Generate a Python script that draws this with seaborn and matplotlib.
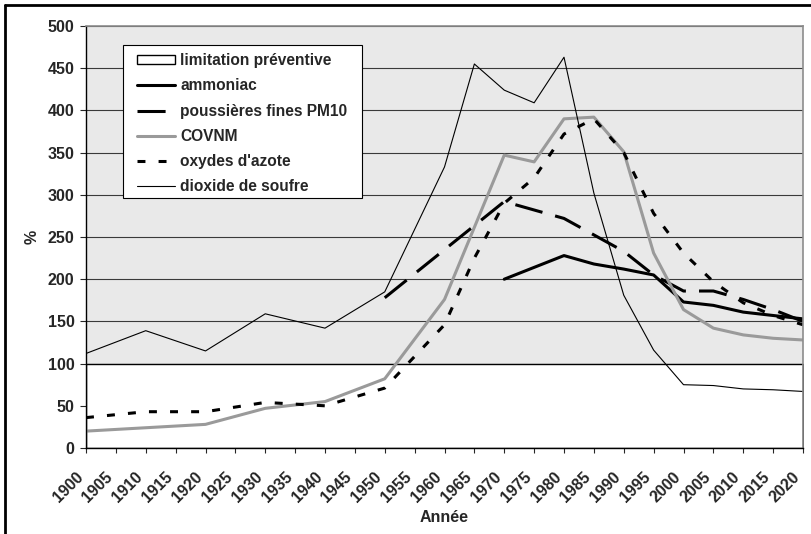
import numpy as np
import pandas as pd
import matplotlib
matplotlib.use("Agg")
import matplotlib.pyplot as plt
import seaborn as sns
from matplotlib.lines import Line2D
from matplotlib.patches import Rectangle

# valeurs (% de la limitation préventive)
years_lim = [1900, 2020]
lim = [100, 100]

years_nh3 = [1970, 1980, 1985, 1990, 1995, 2000, 2005, 2010, 2015, 2020]
nh3 = [200, 228, 218, 212, 205, 173, 169, 161, 157, 153]

years_pm10 = [1950, 1960, 1970, 1980, 1990, 1995, 2000, 2005, 2010, 2015, 2020]
pm10 = [178, 235, 292, 272, 233, 205, 186, 186, 176, 164, 150]

years_covnm = [1900, 1920, 1930, 1940, 1950, 1960, 1970, 1975, 1980, 1985, 1990,
               1995, 2000, 2005, 2010, 2015, 2020]
covnm = [20, 28, 47, 55, 82, 176, 347, 339, 390, 392, 351, 231, 164, 142, 134, 130, 128]

years_nox = [1900, 1910, 1920, 1930, 1940, 1950, 1960, 1965, 1970, 1975, 1980, 1985,
             1990, 1995, 2000, 2005, 2010, 2015, 2020]
nox = [36, 43, 43, 54, 50, 71, 146, 225, 290, 320, 372, 390, 350, 278, 231, 197, 172,
       157, 146]

years_so2 = [1900, 1910, 1920, 1930, 1940, 1950, 1960, 1965, 1970, 1975, 1980, 1985,
             1990, 1995, 2000, 2005, 2010, 2015, 2020]
so2 = [112, 139, 115, 159, 142, 185, 333, 455, 424, 409, 463, 302, 181, 116, 75, 74,
       70, 69, 67]

xticks = list(range(1900, 2021, 5))
yticks = list(range(0, 501, 50))

labels = ["limitation préventive", "ammoniac", "poussières fines PM10", "COVNM",
          "oxydes d'azote", "dioxide de soufre"]

sns.set_style("white")
plt.rcParams['font.family'] = ['Liberation Sans', 'DejaVu Sans']
plt.rcParams['font.weight'] = 'bold'
plt.rcParams['font.size'] = 11.5

fig = plt.figure(figsize=(8.11, 5.34), dpi=100)
ax = fig.add_axes([86/811, 1-448/534, (803-86)/811, (448-26)/534])
ax.set_facecolor('#e9e9e9')

ax.fill_between(years_lim, 0, lim, facecolor='white', edgecolor='black', lw=1,
                label=labels[0], zorder=1)

sns.lineplot(x=years_nh3, y=nh3, ax=ax, color='black', lw=2.2, label=labels[1],
             legend=False)
sns.lineplot(x=years_pm10, y=pm10, ax=ax, color='black', lw=2.2,
             linestyle=(0, (9.2, 4.3)), label=labels[2], legend=False)
sns.lineplot(x=years_covnm, y=covnm, ax=ax, color='#9a9a9a', lw=2.2, label=labels[3],
             legend=False)
sns.lineplot(x=years_nox, y=nox, ax=ax, color='black', lw=2.2,
             linestyle=(0, (2.6, 4.3)), label=labels[4], legend=False)
sns.lineplot(x=years_so2, y=so2, ax=ax, color='black', lw=0.8, label=labels[5],
             legend=False)

ax.set_xlim(1900, 2020)
ax.set_ylim(0, 500)
ax.set_xticks(xticks, labels=[str(y) for y in xticks])
ax.set_yticks(yticks)
ax.set_axisbelow(True)
ax.yaxis.grid(True, color='#3a3a3a', lw=0.8)

for side in ['top', 'right']:
    ax.spines[side].set_color('#8c8c8c')
    ax.spines[side].set_linewidth(1.2)
for side in ['left', 'bottom']:
    ax.spines[side].set_color('black')
    ax.spines[side].set_linewidth(1)

ax.tick_params(axis='y', direction='out', length=4.3, width=0.8, pad=4, left=True,
               labelsize=11.5)
ax.tick_params(axis='x', direction='out', length=3.4, width=0.8, pad=19.6, bottom=True,
               labelsize=11.5)
plt.setp(ax.get_xticklabels(), rotation=45, ha='right', va='bottom',
         rotation_mode='anchor')

ax.set_xlabel('Année', fontsize=11.5, fontweight='bold')
ax.set_ylabel('%', fontsize=11.5, fontweight='bold')
ax.xaxis.set_label_coords(0.5, (448-510)/422)
ax.yaxis.set_label_coords((40-86)/717, 0.5)

# cadre de la légende (taille fixe comme dans Excel)
ax.add_patch(Rectangle((123/811, 1-198/534), (362-123)/811, (198-45)/534,
                       transform=fig.transFigure, facecolor='white',
                       edgecolor='black', lw=0.8, zorder=4.5, clip_on=False))

handles, labs = ax.get_legend_handles_labels()
order = [labs.index(l) for l in labels]
leg = ax.legend([handles[i] for i in order], [labs[i] for i in order],
                loc='upper left', bbox_to_anchor=(137/811, 1-53/534),
                bbox_transform=fig.transFigure, borderaxespad=0, borderpad=0,
                frameon=False, prop={'weight': 'bold', 'size': 11.2},
                handlelength=2.45, handleheight=0.5, handletextpad=0.33,
                labelspacing=0.66)

fig.add_artist(Line2D([5/811, 5/811], [0, 1-5/534], transform=fig.transFigure,
                      color='black', lw=2))
fig.add_artist(Line2D([5/811, 1], [1-5/534, 1-5/534], transform=fig.transFigure,
                      color='black', lw=2))

fig.savefig('out.png', dpi=100)
